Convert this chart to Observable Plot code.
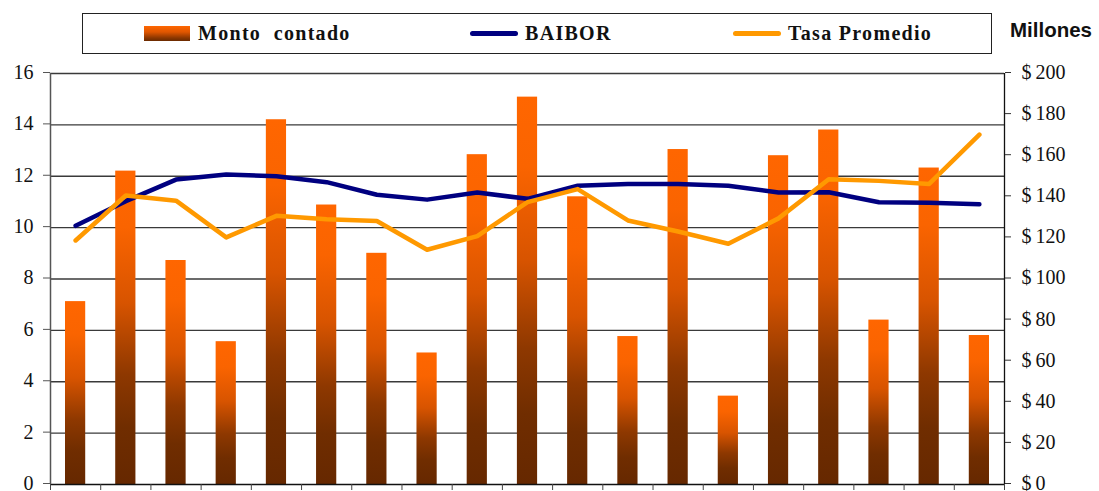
<!DOCTYPE html>
<html>
<head>
<meta charset="utf-8">
<script src="https://cdn.jsdelivr.net/npm/d3@7"></script>
<script src="https://cdn.jsdelivr.net/npm/@observablehq/plot@0.6"></script>
<style>
  html, body { margin: 0; padding: 0; background: #fff; }
  #wrap { position: relative; width: 1099px; height: 491px; overflow: hidden; }
  #chart { position: absolute; left: 0; top: 0; }
  #legend {
    position: absolute; left: 82px; top: 13px; width: 908px; height: 39px;
    border: 1.5px solid #222; box-sizing: content-box;
    font-family: "Liberation Serif", serif; font-weight: bold; font-size: 20px;
    letter-spacing: 1.3px; color: #111;
  }
  .item { position: absolute; top: 0; height: 39px; display: flex; align-items: center; white-space: pre; }
  .swatch-bar { width: 46px; height: 15px; margin-right: 8px;
    background: linear-gradient(to bottom, #ff6600 0%, #e05600 40%, #8a3600 80%, #6a2a00 100%); }
  .swatch-line { width: 48px; height: 5px; border-radius: 3px; margin-right: 7px; }
  #unit {
    position: absolute; left: 1010px; top: 18px;
    font-family: "Liberation Sans", Arial, sans-serif; font-weight: bold; font-size: 20.5px; color: #111;
  }
</style>
</head>
<body>
<div id="wrap">
  <div id="chart"></div>
  <div id="legend"></div>
  <div id="unit">Millones</div>
</div>
<script>
// Monthly series: amount traded (millions, right axis) and two rates (left axis)
const periods = d3.range(19);
const monto = [89, 152.5, 109, 69.5, 177.5, 136, 112.5, 64, 160.5, 188.5, 140, 72, 163, 43, 160, 172.5, 80, 154, 72.5];
const baibor = [10.07, 11.03, 11.87, 12.07, 12.0, 11.77, 11.28, 11.09, 11.37, 11.12, 11.63, 11.7, 11.7, 11.63, 11.37, 11.38, 10.99, 10.97, 10.91];
const tasa = [9.5, 11.25, 11.05, 9.62, 10.46, 10.33, 10.26, 9.14, 9.67, 10.99, 11.5, 10.28, 9.85, 9.37, 10.36, 11.88, 11.82, 11.7, 13.62];

const leftTicks = d3.range(0, 17, 2);
const rightTicks = d3.range(0, 201, 20);
const ratio = 200 / 16; // right axis (millions) per left-axis unit

const colors = { monto: "#ff6600", baibor: "#000080", tasa: "#ff9900" };
const tickFont = "'Liberation Serif', serif";

const rows = periods.map(i => ({ i, monto: monto[i], baibor: baibor[i], tasa: tasa[i] }));

const chart = Plot.plot({
  width: 1099,
  height: 491,
  marginTop: 73,
  marginBottom: 7,
  marginLeft: 50,
  marginRight: 95,
  style: { fontFamily: tickFont, fontSize: "20px", color: "#111", background: "transparent" },
  x: { domain: [0, periods.length], axis: null },
  y: { domain: [0, 16], axis: null },
  marks: [
    Plot.ruleY(leftTicks.slice(1), { stroke: "#3a3a3a", strokeWidth: 1.3 }),
    Plot.rectY(rows, {
      x1: d => d.i, x2: d => d.i + 1, y: d => d.monto / ratio,
      insetLeft: 15, insetRight: 15, fill: "url(#montoGrad)"
    }),
    Plot.line(rows, { x: d => d.i + 0.5, y: "baibor", stroke: colors.baibor, strokeWidth: 4.5, strokeLinecap: "round", strokeLinejoin: "round" }),
    Plot.line(rows, { x: d => d.i + 0.5, y: "tasa", stroke: colors.tasa, strokeWidth: 4.5, strokeLinecap: "round", strokeLinejoin: "round" }),
    Plot.ruleY([0], { stroke: "#111", strokeWidth: 1.3 }),
    Plot.ruleX([0], { stroke: "#555", strokeWidth: 1.5 }),
    Plot.ruleX([periods.length], { stroke: "#111", strokeWidth: 1.3 }),
    Plot.axisY(leftTicks, { anchor: "left", tickSize: 7, tickPadding: 10, stroke: "#555", fontSize: 20, dy: -1 }),
    Plot.axisY(rightTicks.map(v => v / ratio), {
      anchor: "right", tickSize: 6, tickPadding: 11, stroke: "#333", fontSize: 20, dy: -1,
      tickFormat: v => "$\u2009" + Math.round(v * ratio)
    }),
    Plot.axisX(d3.range(0, periods.length + 1), { anchor: "bottom", tickSize: 6, tickFormat: () => "", stroke: "#444" })
  ]
});

// Serif tick labels, set directly on each text node
d3.select(chart).selectAll("text")
  .style("font-family", tickFont)
  .style("font-variant-numeric", "normal")
  .style("fill", "#111");

// Vertical gradient used by each bar
d3.select(chart).insert("defs", ":first-child").html(`
  <linearGradient id="montoGrad" x1="0" y1="0" x2="0" y2="1">
    <stop offset="0" stop-color="#ff6600"/>
    <stop offset="0.18" stop-color="#fa6400"/>
    <stop offset="0.42" stop-color="#d85400"/>
    <stop offset="0.65" stop-color="#8e3800"/>
    <stop offset="0.82" stop-color="#702d00"/>
    <stop offset="1" stop-color="#662800"/>
  </linearGradient>`);

document.getElementById("chart").appendChild(chart);

// Legend
const legend = d3.select("#legend");
const items = [
  { label: "Monto  contado", type: "bar", left: 61 },
  { label: "BAIBOR", type: "line", color: colors.baibor, left: 387 },
  { label: "Tasa Promedio", type: "line", color: colors.tasa, left: 650 }
];
for (const it of items) {
  const el = legend.append("div").attr("class", "item").style("left", it.left + "px");
  if (it.type === "bar") el.append("div").attr("class", "swatch-bar");
  else el.append("div").attr("class", "swatch-line").style("background", it.color);
  el.append("span").text(it.label);
}
</script>
</body>
</html>
